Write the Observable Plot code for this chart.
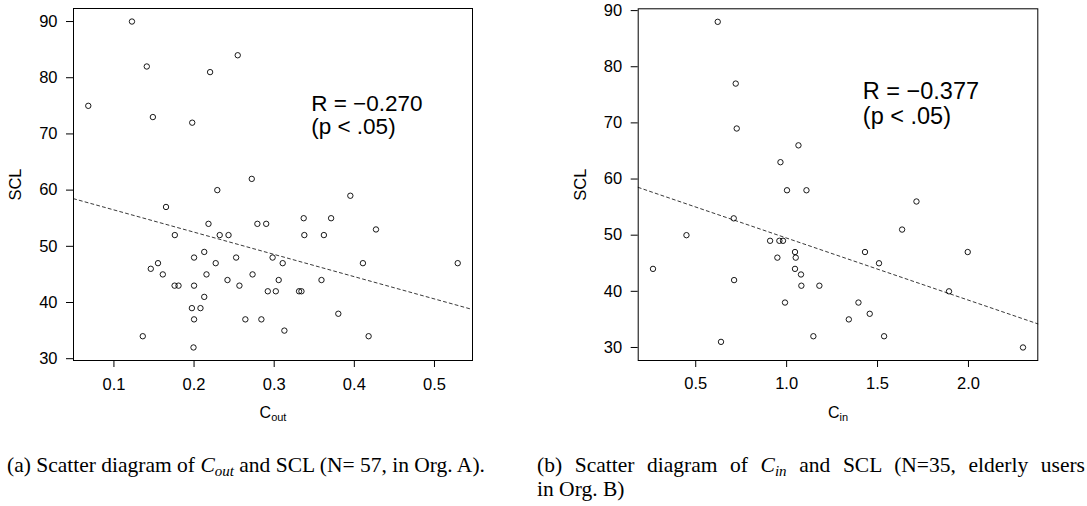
<!DOCTYPE html>
<html>
<head>
<meta charset="utf-8">
<script src="https://cdn.jsdelivr.net/npm/d3@7"></script>
<script src="https://cdn.jsdelivr.net/npm/@observablehq/plot@0.6"></script>
<style>
  body { margin: 0; background: #fff; }
  #wrap { position: relative; width: 1087px; height: 506px; overflow: hidden; font-family: "Liberation Sans", Arial, sans-serif; color: #000; }
  .panel { position: absolute; top: 0; }
  .xlab { position: absolute; transform: translate(-50%, -50%); font-size: 16px; white-space: nowrap; }
  .xlab sub { font-size: 11px; vertical-align: -3px; }
  .cap { position: absolute; font-family: "Liberation Serif", "Times New Roman", serif; font-size: 21.5px; line-height: 24px; white-space: nowrap; }
  .cap i sub { font-size: 15px; vertical-align: -4px; }
  .just { text-align: justify; text-align-last: justify; white-space: normal; }
</style>
</head>
<body>
<div id="wrap"></div>
<script>
// ---- Data: panel (a) C_out vs SCL (N = 57, Org. A)
const coutX = [0.068,0.1225,0.141,0.1486,0.1977,0.220,0.2545,0.229,0.272,0.165,
  0.176,0.218,0.232,0.243,0.279,0.290,0.2127,0.200,0.2525,0.298,
  0.155,0.227,0.146,0.161,0.2155,0.273,0.2417,0.3056,0.1757,0.1806,
  0.200,0.2566,0.292,0.302,0.331,0.334,0.2127,0.1973,0.208,0.200,
  0.264,0.284,0.136,0.1993,0.395,0.3368,0.371,0.427,0.3376,0.362,
  0.3106,0.4107,0.529,0.359,0.380,0.3127,0.4178];
const coutSCL = [75,90,82,73,72,81,84,60,62,57,
  52,54,52,52,54,54,49,48,48,48,
  47,47,46,45,45,45,44,44,43,43,
  43,43,42,42,42,42,41,39,39,37,
  37,37,34,32,59,55,55,53,52,52,
  47,47,47,44,38,35,34];

// ---- Data: panel (b) C_in vs SCL (N = 35, elderly users, Org. B)
const cinX = [0.621,0.720,0.7255,1.065,0.966,1.002,1.109,0.709,0.449,0.909,
  0.960,0.980,1.046,0.949,1.050,0.265,1.046,1.079,0.711,1.081,
  1.180,0.991,1.147,0.639,1.714,1.635,1.431,1.996,1.508,1.893,
  1.395,1.457,1.342,1.536,2.300];
const cinSCL = [88,77,69,66,63,58,58,53,50,49,
  49,49,47,46,46,44,44,43,42,41,
  41,38,32,31,56,51,47,47,45,40,
  38,36,35,32,30];

const sclTicks = [30, 40, 50, 60, 70, 80, 90];
const coutTicks = [0.1, 0.2, 0.3, 0.4, 0.5];
const cinTicks = [0.5, 1.0, 1.5, 2.0];
const annotA = "R = \u22120.270\n(p < .05)";
const annotB = "R = \u22120.377\n(p < .05)";
const yTitle = "SCL";

// R-style padded extent (4%)
function rExtent(v) {
  const [a, b] = d3.extent(v);
  const p = (b - a) * 0.04;
  return [a - p, b + p];
}
function fit(xs, ys) {
  const mx = d3.mean(xs), my = d3.mean(ys);
  let sxy = 0, sxx = 0;
  for (let i = 0; i < xs.length; i++) { sxy += (xs[i]-mx)*(ys[i]-my); sxx += (xs[i]-mx)**2; }
  const b = sxy / sxx;
  return {a: my - b*mx, b};
}

function panel(opt) {
  const data = opt.xs.map((x, i) => ({x, y: opt.ys[i]}));
  const xd = rExtent(opt.xs), yd = rExtent(opt.ys);
  const f = fit(opt.xs, opt.ys);
  const reg = xd.map(x => ({x, y: f.a + f.b * x}));
  return Plot.plot({
    width: opt.width, height: 430,
    marginLeft: opt.ml, marginRight: opt.mr, marginTop: opt.mt, marginBottom: 70,
    style: {fontFamily: "'Liberation Sans', Arial, sans-serif", fontSize: "16px", color: "#000", background: "transparent", overflow: "visible"},
    x: {domain: xd, label: null},
    y: {domain: yd, label: null},
    marks: [
      Plot.axisY({ticks: sclTicks, tickSize: 7, tickPadding: 9, fontSize: 16.5, label: null}),
      Plot.axisX({ticks: opt.xTicks, tickSize: 7, tickPadding: opt.xpad, fontSize: 16.5, label: null, tickFormat: opt.fmt}),
      Plot.line(reg, {x: "x", y: "y", stroke: "#222", strokeWidth: 0.9, strokeDasharray: "3,3"}),
      Plot.dot(data, {x: "x", y: "y", r: 2.7, stroke: "#000", strokeWidth: 0.9, fill: "none"}),
      Plot.frame({stroke: "#000", strokeWidth: 1}),
      Plot.text([yTitle], {frameAnchor: "left", dx: -57.5, rotate: -90, fontSize: 16.5, textAnchor: "middle", lineAnchor: "middle"}),
      Plot.text([opt.annot], {frameAnchor: "top-left", dx: opt.adx, dy: opt.ady, textAnchor: "start", lineAnchor: "top", fontSize: opt.afs, lineHeight: opt.alh})
    ]
  });
}

const wrap = document.getElementById("wrap");

const pa = panel({xs: coutX, ys: coutSCL, width: 540, ml: 73, mr: 68, mt: 8, xTicks: coutTicks, fmt: d3.format(".1f"), xpad: 11,
  annot: annotA, adx: 237.7, ady: 86, afs: 22.5, alh: 1.02});
pa.classList.add("panel"); pa.style.left = "0px";
wrap.appendChild(pa);

const pb = panel({xs: cinX, ys: cinSCL, width: 547, ml: 97.7, mr: 49.7, mt: 8.3, xTicks: cinTicks, fmt: d3.format(".1f"), xpad: 10,
  annot: annotB, adx: 224.6, ady: 73.5, afs: 23.5, alh: 1.03});
pb.classList.add("panel"); pb.style.left = "540px";
wrap.appendChild(pb);

function addHTML(cls, html, left, top, width) {
  const d = document.createElement("div");
  d.className = cls; d.innerHTML = html;
  d.style.left = left + "px"; d.style.top = top + "px";
  if (width) d.style.width = width + "px";
  wrap.appendChild(d);
  return d;
}
addHTML("xlab", "C<sub>out</sub>", 273, 413);
addHTML("xlab", "C<sub>in</sub>", 838, 413);
addHTML("cap", "(a) Scatter diagram of <i>C<sub>out</sub></i> and SCL (N= 57, in Org. A).", 7, 453);
addHTML("cap just", "(b) Scatter diagram of <i>C<sub>in</sub></i> and SCL (N=35, elderly users", 537, 453, 548);
addHTML("cap", "in Org. B)", 537, 477);
</script>
</body>
</html>
